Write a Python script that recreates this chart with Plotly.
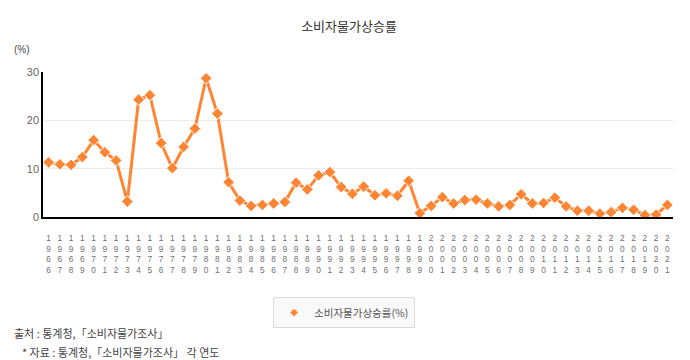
import plotly.graph_objects as go

years = [str(y) for y in range(1966, 2022)]
cpi = [11.3, 10.9, 10.8, 12.4, 15.9, 13.4, 11.7, 3.2, 24.3, 25.2,
       15.3, 10.1, 14.5, 18.3, 28.7, 21.4, 7.2, 3.4, 2.3, 2.5,
       2.8, 3.1, 7.1, 5.7, 8.6, 9.3, 6.2, 4.8, 6.3, 4.5,
       4.9, 4.4, 7.5, 0.8, 2.3, 4.1, 2.8, 3.5, 3.6, 2.8,
       2.2, 2.5, 4.7, 2.8, 2.9, 4.0, 2.2, 1.3, 1.3, 0.7,
       1.0, 1.9, 1.5, 0.4, 0.5, 2.5]
series_name = "소비자물가상승률(%)"
title = "소비자물가상승률"
y_ticks = [0, 10, 20, 30]

tick_text = ["<br>".join(list(y)) for y in years]

color = "#ff8533"
kfont = "Noto Sans CJK KR, Liberation Sans, sans-serif"
afont = "Liberation Sans, Arial, sans-serif"

fig = go.Figure()
fig.add_trace(go.Scatter(
    x=years, y=cpi, mode="lines+markers", showlegend=False,
    line=dict(color=color, width=3),
    marker=dict(symbol="diamond", size=9, color=color,
                line=dict(color="white", width=1)),
))
fig.add_trace(go.Scatter(
    x=[None], y=[None], mode="markers", name=series_name,
    marker=dict(symbol="diamond", size=6, color=color),
))

fig.update_layout(
    width=682, height=352,
    margin=dict(l=35, r=17, t=64, b=143),
    paper_bgcolor="white", plot_bgcolor="white",
    title=dict(text=title, x=0.5, xanchor="center", y=0.949, yanchor="middle",
               font=dict(family=kfont, size=13, color="#333")),
    font=dict(family=kfont),
    showlegend=True,
    legend=dict(orientation="h", x=0.478, xanchor="center", y=-0.552, yanchor="top",
                bgcolor="#f9f9f9", bordercolor="#dcdcdc", borderwidth=1,
                font=dict(family=kfont, size=10.5, color="#555"),
                itemwidth=30, tracegroupgap=0),
    xaxis=dict(type="category", tickmode="array", tickvals=years, ticktext=tick_text,
               tickangle=0, range=[-0.5, len(years) - 0.5],
               showline=True, linecolor="black", linewidth=1.5, showgrid=False,
               ticks="", ticklen=0, ticklabelstandoff=12,
               tickfont=dict(family=afont, size=8.3, color="#707070")),
    yaxis=dict(range=[0, 30], tickvals=y_ticks, showline=True, linecolor="black",
               linewidth=1.5, gridcolor="#ececec", zeroline=False, ticks="",
               tickfont=dict(family=afont, size=11, color="#666")),
    annotations=[
        dict(text="(%)", xref="paper", yref="paper", x=-0.049, y=1.152, xanchor="left",
             yanchor="middle", showarrow=False,
             font=dict(family=afont, size=10, color="#444")),
        dict(text="출처 : 통계청,「소비자물가조사」", xref="paper", yref="paper",
             x=-0.049, y=-0.80, xanchor="left", yanchor="middle", showarrow=False,
             font=dict(family=kfont, size=11, color="#444")),
        dict(text="* 자료 : 통계청,「소비자물가조사」 각 연도", xref="paper", yref="paper",
             x=-0.0365, y=-0.931, xanchor="left", yanchor="middle", showarrow=False,
             font=dict(family=kfont, size=11, color="#444")),
    ],
)

fig.write_html("out.html")
